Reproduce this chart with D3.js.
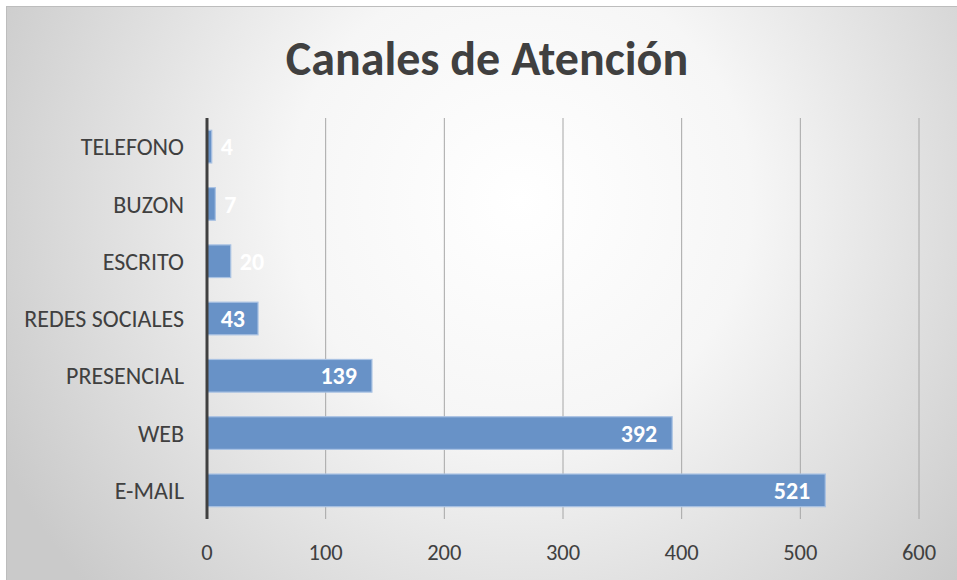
<!DOCTYPE html>
<html>
<head>
<meta charset="utf-8">
<script src="https://cdn.jsdelivr.net/npm/d3@7"></script>
<style>
  body { margin: 0; background: #fff; }
  svg { display: block; }
</style>
</head>
<body>
<svg id="chart" width="957" height="580"></svg>
<script>
var categories = ['TELEFONO', 'BUZON', 'ESCRITO', 'REDES SOCIALES', 'PRESENCIAL', 'WEB', 'E-MAIL'],
    values = [4, 7, 20, 43, 139, 392, 521],
    xTicks = [0, 100, 200, 300, 400, 500, 600],
    title = 'Canales de Atención';

var width = 957,
    height = 580,
    margin = {top: 118, right: 38, bottom: 61, left: 207},
    font = 'Carlito, Calibri, "Open Sans", sans-serif',
    textColor = '#404040';

var svg = d3.select('#chart');

// background panel with soft radial light
var defs = svg.append('defs');
var grad = defs.append('radialGradient')
    .attr('id', 'bg')
    .attr('gradientUnits', 'userSpaceOnUse')
    .attr('cx', 520).attr('cy', 200).attr('r', 580);
grad.append('stop').attr('offset', '0%').attr('stop-color', '#ffffff');
grad.append('stop').attr('offset', '40%').attr('stop-color', '#f6f6f6');
grad.append('stop').attr('offset', '100%').attr('stop-color', '#cacaca');

svg.append('rect')
    .attr('x', 6).attr('y', 6)
    .attr('width', width - 6).attr('height', height)
    .attr('fill', 'url(#bg)');
svg.append('rect')
    .attr('x', 6).attr('y', 6)
    .attr('width', width).attr('height', 1)
    .attr('fill', '#bdbdbd');
svg.append('rect')
    .attr('x', 6).attr('y', 6)
    .attr('width', 1).attr('height', height)
    .attr('fill', '#bdbdbd');

svg.append('text')
    .attr('x', 487).attr('y', 75)
    .attr('text-anchor', 'middle')
    .style('font-family', font)
    .style('font-weight', 'bold')
    .style('font-size', '48px')
    .style('fill', textColor)
    .text(title);

var x = d3.scaleLinear()
    .domain([0, 600])
    .range([margin.left, width - margin.right]);

var y = d3.scaleBand()
    .domain(categories)
    .range([margin.top, height - margin.bottom])
    .paddingInner(0.43)
    .paddingOuter(0.215);

// gridlines
svg.append('g')
    .selectAll('line')
    .data(xTicks.slice(1)).enter()
    .append('line')
    .attr('x1', function(d){ return x(d); })
    .attr('x2', function(d){ return x(d); })
    .attr('y1', margin.top)
    .attr('y2', height - margin.bottom)
    .attr('stroke', '#a6a6a6')
    .attr('stroke-width', 1);

// bars
svg.append('g')
    .selectAll('rect')
    .data(values).enter()
    .append('rect')
    .attr('x', x(0))
    .attr('y', function(d, i){ return y(categories[i]); })
    .attr('width', function(d){ return x(d) - x(0); })
    .attr('height', y.bandwidth())
    .attr('fill', '#6892c7')
    .attr('stroke', '#a9c2e3')
    .attr('stroke-width', 1.2);

// data labels: inside end, spill outside when the bar is too short
function inside(d) { return x(d) - x(0) > 40; }
svg.append('g')
    .selectAll('text')
    .data(values).enter()
    .append('text')
    .attr('x', function(d){ return inside(d) ? Math.max(x(d) - 15, x(0) + 38) : x(d) + 9; })
    .attr('y', function(d, i){ return y(categories[i]) + y.bandwidth() / 2; })
    .attr('dy', '0.36em')
    .attr('text-anchor', function(d){ return inside(d) ? 'end' : 'start'; })
    .style('font-family', font)
    .style('font-weight', 'bold')
    .style('font-size', '24px')
    .style('fill', '#ffffff')
    .text(function(d){ return d; });

// category axis
svg.append('line')
    .attr('x1', x(0)).attr('x2', x(0))
    .attr('y1', margin.top).attr('y2', height - margin.bottom)
    .attr('stroke', '#404040')
    .attr('stroke-width', 3);

svg.append('g')
    .selectAll('text')
    .data(categories).enter()
    .append('text')
    .attr('x', 184)
    .attr('y', function(d){ return y(d) + y.bandwidth() / 2; })
    .attr('dy', '0.36em')
    .attr('text-anchor', 'end')
    .style('font-family', font)
    .style('font-size', '24px')
    .style('fill', textColor)
    .text(function(d){ return d; });

// value axis labels
svg.append('g')
    .selectAll('text')
    .data(xTicks).enter()
    .append('text')
    .attr('x', function(d){ return x(d); })
    .attr('y', 560)
    .attr('text-anchor', 'middle')
    .style('font-family', font)
    .style('font-size', '22.5px')
    .style('fill', textColor)
    .text(function(d){ return d; });
</script>
</body>
</html>
